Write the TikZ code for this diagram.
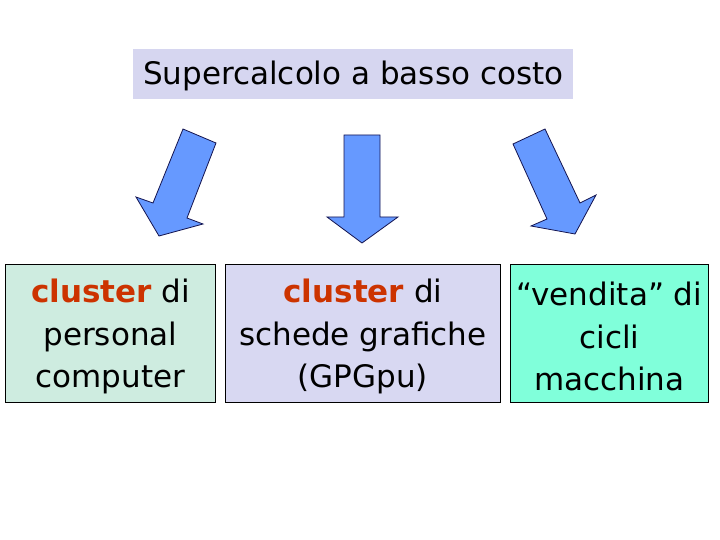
\documentclass[tikz,border=0pt]{standalone}
\usepackage{fontspec}
\setmainfont{DejaVu Sans}
\definecolor{titlebg}{RGB}{214,214,240}
\definecolor{greenbg}{RGB}{206,236,224}
\definecolor{lavbg}{RGB}{216,216,242}
\definecolor{aquabg}{RGB}{128,255,218}
\definecolor{arrowfill}{RGB}{102,153,255}
\definecolor{arrowline}{RGB}{20,20,80}
\definecolor{clred}{RGB}{204,51,0}
\newcommand{\topstrut}{\rule{0pt}{30pt}}
\begin{document}
\begin{tikzpicture}[x=1pt,y=-1pt,
  box/.style={draw=black,line width=0.8pt,inner sep=0pt,anchor=north west,align=center,
    font=\fontsize{31}{42.5}\selectfont},
  bigarrow/.style={fill=arrowfill,draw=arrowline,line width=0.8pt,line join=miter}]
\useasboundingbox (0,0) rectangle (720,540);
\fill[white] (0,0) rectangle (720,540);
% title
\node[fill=titlebg,minimum width=440pt,minimum height=50pt,anchor=north west,inner sep=0pt,
  font=\fontsize{31}{36}\selectfont] (title) at (133,49) {\rule{0pt}{27pt}Supercalcolo a basso costo};
% boxes
\node[box,fill=greenbg,minimum width=210pt,minimum height=138pt] (pc) at (5,264)
  {\topstrut\textcolor{clred}{\textbf{cluster}} di\\personal\\computer};
\node[box,fill=lavbg,minimum width=275pt,minimum height=138pt] (gpu) at (225,264)
  {\topstrut\textcolor{clred}{\textbf{cluster}} di\\schede grafiche\\(GPGpu)};
\node[box,fill=aquabg,minimum width=198pt,minimum height=138pt] (cyc) at (510,264)
  {\topstrut“vendita” di\\cicli\\macchina};
% arrows
\draw[bigarrow] (183,129) -- (216,143) -- (187,218) -- (203,224) -- (159,236) -- (136,197) -- (153,203) -- cycle;
\draw[bigarrow] (344,135) -- (380,135) -- (380,217) -- (398,217) -- (362,243) -- (327,217) -- (344,217) -- cycle;
\draw[bigarrow] (513,144) -- (545,129) -- (580,203) -- (596,195) -- (575,234) -- (531,226) -- (547,219) -- cycle;
\end{tikzpicture}
\end{document}
